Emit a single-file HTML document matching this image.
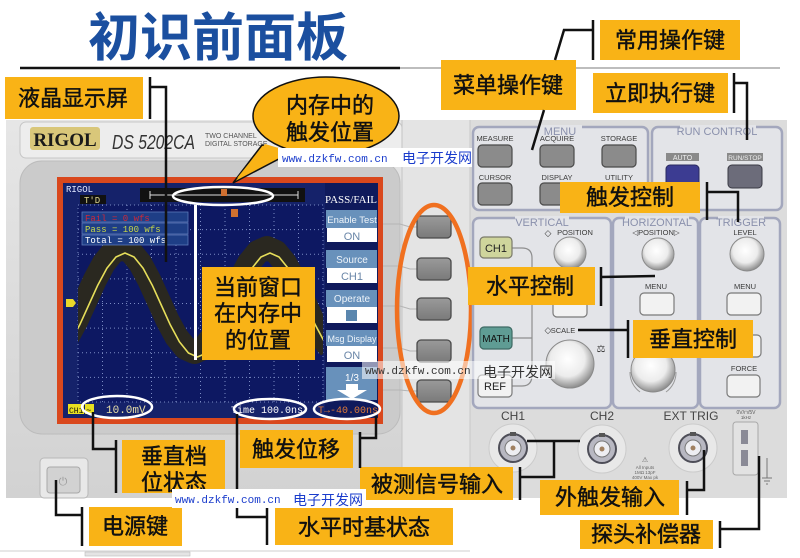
<!DOCTYPE html>
<html><head><meta charset="utf-8">
<style>
html,body{margin:0;padding:0;background:#fff;}
svg{display:block;}
.lb{font-family:"Liberation Sans","Noto Sans CJK SC",sans-serif;font-size:22px;fill:#111;stroke:#111;stroke-width:0.45px;text-anchor:middle;}
.box{fill:#f9b316;}
.ln{stroke:#111;stroke-width:2.5;fill:none;}
.sm{font-family:"Liberation Sans",sans-serif;font-size:7.5px;fill:#3a3a3a;text-anchor:middle;}
.hd{font-family:"Liberation Sans",sans-serif;font-size:11px;fill:#8a90ac;text-anchor:middle;}
.btn{fill:#8b8b8b;stroke:#4a4a4a;stroke-width:1.2;}
.wbtn{fill:#f2f2f2;stroke:#7a7a7a;stroke-width:1.2;}
.wm1{font-family:"Liberation Mono",monospace;font-size:11px;fill:#1a3ccc;}
.wm2{font-family:"Liberation Sans","Noto Sans CJK SC",sans-serif;font-size:14px;fill:#1a3ccc;}
.pbox{fill:#e3e4e8;stroke:#a3a7bd;stroke-width:2.5;}
.mono{font-family:"Liberation Mono",monospace;}
.grid{stroke:#7c8cc4;stroke-width:1;stroke-dasharray:1 3;}
</style></head><body>
<svg width="800" height="558" viewBox="0 0 800 558" xmlns="http://www.w3.org/2000/svg">
<defs>
<linearGradient id="bodyg" x1="0" y1="0" x2="0" y2="1">
<stop offset="0" stop-color="#e6e6e6"/><stop offset="1" stop-color="#d2d2d2"/>
</linearGradient>
<radialGradient id="kn" cx="0.45" cy="0.4" r="0.6">
<stop offset="0" stop-color="#ffffff"/><stop offset="0.6" stop-color="#ececec"/><stop offset="1" stop-color="#8e8e8e"/>
</radialGradient>
<linearGradient id="sk" x1="0" y1="0" x2="0" y2="1">
<stop offset="0" stop-color="#9a9a9a"/><stop offset="1" stop-color="#7a7a7a"/>
</linearGradient>
</defs>

<!-- Title -->
<text x="88" y="56" style="font-family:'Liberation Sans','Noto Sans CJK SC',sans-serif;font-size:52px;font-weight:bold;fill:#1b4f9f;">初识前面板</text>
<line x1="20" y1="68" x2="400" y2="68" stroke="#111" stroke-width="2.5"/>
<line x1="400" y1="68" x2="780" y2="68" stroke="#bdbdbd" stroke-width="2"/>

<!-- Body -->
<rect x="6" y="120" width="781" height="378" fill="url(#bodyg)"/>
<rect x="20" y="122" width="382" height="36" rx="6" fill="#ededed" stroke="#c6c6c6"/>
<rect x="20" y="161" width="380" height="273" rx="22" fill="#cbcbcb" stroke="#bcbcbc"/>
<rect x="402" y="120" width="68" height="378" fill="#e4e4e4"/>
<line x1="402" y1="120" x2="402" y2="498" stroke="#c4c4c4"/>
<rect x="470" y="120" width="317" height="378" fill="#dcdcdc"/>
<line x1="470" y1="120" x2="470" y2="498" stroke="#c8c8c8"/>

<!-- RIGOL header -->
<rect x="30" y="127" width="70" height="23" rx="3" fill="#d9c77a"/>
<text x="65" y="146" text-anchor="middle" style="font-family:'Liberation Serif',serif;font-weight:bold;font-size:19px;fill:#1a1a1a;">RIGOL</text>
<text x="112" y="149" textLength="83" lengthAdjust="spacingAndGlyphs" style="font-family:'Liberation Sans',sans-serif;font-style:italic;font-size:20px;fill:#333;">DS 5202CA</text>
<text x="205" y="138" style="font-family:'Liberation Sans',sans-serif;font-size:7px;fill:#555;">TWO CHANNEL</text>
<text x="205" y="146" style="font-family:'Liberation Sans',sans-serif;font-size:7px;fill:#555;">DIGITAL STORAGE</text>

<!-- Power -->
<rect x="40" y="458" width="48" height="40" rx="4" fill="#e8e8e8" stroke="#b8b8b8"/>
<rect x="47" y="467" width="33" height="26" rx="3" fill="#d2d2d2" stroke="#a8a8a8"/>
<text x="63" y="485" text-anchor="middle" style="font-family:'DejaVu Sans',sans-serif;font-size:11px;fill:#999;">⏻</text>

<!-- Screen -->
<rect x="57" y="177" width="326" height="247" fill="#d9481d"/>
<rect x="63" y="183" width="315" height="235" fill="#15226a"/>
<rect x="78" y="205" width="245" height="197" fill="#0d1862"/>
<g class="grid">
<line x1="102.5" y1="205" x2="102.5" y2="402"/><line x1="127" y1="205" x2="127" y2="402"/>
<line x1="151.5" y1="205" x2="151.5" y2="402"/><line x1="176" y1="205" x2="176" y2="402"/>
<line x1="200.5" y1="205" x2="200.5" y2="402"/><line x1="225" y1="205" x2="225" y2="402"/>
<line x1="249.5" y1="205" x2="249.5" y2="402"/><line x1="274" y1="205" x2="274" y2="402"/>
<line x1="298.5" y1="205" x2="298.5" y2="402"/>
<line x1="78" y1="229.6" x2="323" y2="229.6"/><line x1="78" y1="254.3" x2="323" y2="254.3"/>
<line x1="78" y1="278.9" x2="323" y2="278.9"/><line x1="78" y1="303.5" x2="323" y2="303.5"/>
<line x1="78" y1="328.1" x2="323" y2="328.1"/><line x1="78" y1="352.8" x2="323" y2="352.8"/>
<line x1="78" y1="377.4" x2="323" y2="377.4"/>
<rect x="78" y="205" width="245" height="197" fill="none"/>
</g>
<clipPath id="gc"><rect x="78" y="205" width="245" height="197"/></clipPath>
<g clip-path="url(#gc)">
<polyline transform="translate(-3,-5)" fill="none" stroke="#2a2820" stroke-width="24" stroke-linejoin="round" points="70.6,341.8 79.69,324.9 88.75,305 97.81,285.1 106.88,268.2 115.94,257 125,253 134.06,257 143.13,268.2 152.19,285.1 161.25,305 170.31,324.9 179.38,341.8 188.44,353 197.5,357 206.56,353 215.63,341.8 224.69,324.9 233.75,305 242.81,285.1 251.88,268.2 260.94,257 270,253 279.06,257 288.13,268.2 297.19,285.1 306.25,305 315.31,324.9 324.38,341.8 333.4,353"/>
<polyline fill="none" stroke="#e6de5a" stroke-width="1.6" stroke-linejoin="round" points="70.6,341.8 79.69,324.9 88.75,305 97.81,285.1 106.88,268.2 115.94,257 125,253 134.06,257 143.13,268.2 152.19,285.1 161.25,305 170.31,324.9 179.38,341.8 188.44,353 197.5,357 206.56,353 215.63,341.8 224.69,324.9 233.75,305 242.81,285.1 251.88,268.2 260.94,257 270,253 279.06,257 288.13,268.2 297.19,285.1 306.25,305 315.31,324.9 324.38,341.8 333.4,353"/>
</g>
<!-- screen top -->
<text x="66" y="192" class="mono" style="font-size:9px;fill:#dfe6ff;">RIGOL</text>
<rect x="80" y="195" width="26" height="9" fill="#111"/>
<text x="84" y="203" class="mono" style="font-size:9px;fill:#e0d890;">T'D</text>
<rect x="140" y="188" width="165" height="14" fill="#111"/>
<line x1="150" y1="195" x2="298" y2="195" stroke="#ddd" stroke-width="1"/>
<line x1="150" y1="191" x2="150" y2="199" stroke="#ddd"/><line x1="298" y1="191" x2="298" y2="199" stroke="#ddd"/>
<rect x="221" y="189" width="6" height="7" fill="#d07030"/>
<rect x="231" y="209" width="7" height="8" fill="#d07030"/>
<path d="M66,299 h7 l3,4 l-3,4 h-7z" fill="#e8d82a"/>
<!-- fail/pass -->
<rect x="82" y="212" width="106" height="10" fill="#1e3e86" stroke="#5a78b8" stroke-width="0.8"/>
<rect x="82" y="223" width="106" height="11" fill="#1e3e86" stroke="#5a78b8" stroke-width="0.8"/>
<rect x="82" y="235" width="106" height="10" fill="#1e3e86" stroke="#5a78b8" stroke-width="0.8"/>
<text x="85" y="221" class="mono" style="font-size:9px;fill:#d02838;">Fail = 0 wfs</text>
<text x="85" y="232" class="mono" style="font-size:9px;fill:#c8d848;">Pass = 100 wfs</text>
<text x="85" y="243" class="mono" style="font-size:9px;fill:#ffffff;">Total = 100 wfs</text>
<!-- menu panel -->
<rect x="325" y="183" width="53" height="235" fill="#0f1a5c"/>
<text x="351" y="203" text-anchor="middle" style="font-family:'Liberation Serif',serif;font-size:11px;fill:#fff;">PASS/FAIL</text>
<rect x="326" y="210" width="51" height="18" fill="#6891bb"/>
<rect x="327" y="228" width="50" height="14" fill="#fff"/>
<text x="352" y="223" text-anchor="middle" style="font-family:'Liberation Sans',sans-serif;font-size:9.5px;fill:#eef4fa;">Enable Test</text>
<text x="352" y="240" text-anchor="middle" style="font-family:'Liberation Sans',sans-serif;font-size:11px;fill:#6a86a8;">ON</text>
<rect x="326" y="250" width="51" height="18" fill="#6891bb"/>
<rect x="327" y="268" width="50" height="15" fill="#fff"/>
<text x="352" y="263" text-anchor="middle" style="font-family:'Liberation Sans',sans-serif;font-size:10px;fill:#eef4fa;">Source</text>
<text x="352" y="280" text-anchor="middle" style="font-family:'Liberation Sans',sans-serif;font-size:11px;fill:#6a86a8;">CH1</text>
<rect x="326" y="290" width="51" height="17" fill="#6891bb"/>
<rect x="327" y="307" width="50" height="16" fill="#fff"/>
<text x="352" y="302" text-anchor="middle" style="font-family:'Liberation Sans',sans-serif;font-size:10px;fill:#eef4fa;">Operate</text>
<rect x="346" y="310" width="11" height="11" fill="#5a86ae"/>
<rect x="326" y="330" width="51" height="16" fill="#6891bb"/>
<rect x="327" y="346" width="50" height="16" fill="#fff"/>
<text x="352" y="342" text-anchor="middle" style="font-family:'Liberation Sans',sans-serif;font-size:9px;fill:#eef4fa;">Msg Display</text>
<text x="352" y="359" text-anchor="middle" style="font-family:'Liberation Sans',sans-serif;font-size:11px;fill:#6a86a8;">ON</text>
<rect x="326" y="367" width="51" height="33" fill="#6891bb"/>
<text x="352" y="381" text-anchor="middle" style="font-family:'Liberation Sans',sans-serif;font-size:10px;fill:#fff;">1/3</text>
<path d="M346,384 h12 v6 h9 l-15,9 l-15,-9 h9z" fill="#fff"/>
<!-- status bar -->
<rect x="68" y="404" width="16" height="10" fill="#e8e020"/>
<text x="69" y="413" class="mono" style="font-size:8px;fill:#111;">CH1</text>
<rect x="85" y="404" width="9" height="10" fill="#e8e020"/>
<text x="86" y="413" class="mono" style="font-size:9px;fill:#111;">~</text>
<text x="106" y="413" class="mono" style="font-size:11px;fill:#e8e0a8;">10.0mV</text>
<text x="231" y="413" class="mono" style="font-size:10px;fill:#fff;">Time 100.0ns</text>
<text x="318" y="413" class="mono" style="font-size:10px;fill:#e07a38;">T→-40.00ns</text>
<g fill="none" stroke="#fff" stroke-width="2.5">
<ellipse cx="117" cy="407" rx="35" ry="11"/>
<ellipse cx="270" cy="409" rx="36" ry="10"/>
<ellipse cx="347" cy="409" rx="33" ry="10"/>
<ellipse cx="223" cy="196" rx="50" ry="9"/>
</g>
<line x1="195.5" y1="205" x2="195.5" y2="360" stroke="#fff" stroke-width="3"/>

<!-- softkeys -->
<g stroke="#b4b4b4" stroke-width="1" fill="none">
<path d="M383,224 H400 L410,227 H417"/><path d="M383,266 H400 L410,269 H417"/>
<path d="M383,306 H400 L410,309 H417"/><path d="M383,348 H400 L410,351 H417"/>
<path d="M383,390 H400 L410,391 H417"/>
</g>
<g fill="url(#sk)" stroke="#4a4a4a" stroke-width="1.3">
<rect x="417" y="216" width="34" height="22" rx="4"/>
<rect x="417" y="258" width="34" height="22" rx="4"/>
<rect x="417" y="298" width="34" height="22" rx="4"/>
<rect x="417" y="340" width="34" height="22" rx="4"/>
<rect x="417" y="380" width="34" height="22" rx="4"/>
</g>
<ellipse cx="434" cy="309" rx="37" ry="104" fill="none" stroke="#f07020" stroke-width="4.5"/>

<!-- right panel boxes -->
<rect class="pbox" x="473" y="127" width="175" height="83" rx="6"/>
<rect class="pbox" x="652" y="127" width="130" height="83" rx="6"/>
<rect class="pbox" x="473" y="218" width="138" height="190" rx="6"/>
<rect class="pbox" x="613" y="218" width="85" height="190" rx="6"/>
<rect class="pbox" x="700" y="218" width="80" height="190" rx="6"/>
<rect x="538" y="125" width="44" height="10" fill="#e3e4e8"/>
<text class="hd" x="560" y="135">MENU</text>
<rect x="680" y="125" width="76" height="10" fill="#e3e4e8"/>
<text class="hd" x="717" y="135">RUN CONTROL</text>
<rect x="515" y="216" width="54" height="10" fill="#e3e4e8"/>
<text class="hd" x="542" y="226">VERTICAL</text>
<rect x="625" y="216" width="64" height="10" fill="#e3e4e8"/>
<text class="hd" x="657" y="226">HORIZONTAL</text>
<rect x="718" y="216" width="46" height="10" fill="#e3e4e8"/>
<text class="hd" x="741" y="226">TRIGGER</text>

<text class="sm" x="495" y="141">MEASURE</text>
<text class="sm" x="557" y="141">ACQUIRE</text>
<text class="sm" x="619" y="141">STORAGE</text>
<rect class="btn" x="478" y="145" width="34" height="22" rx="4"/>
<rect class="btn" x="540" y="145" width="34" height="22" rx="4"/>
<rect class="btn" x="602" y="145" width="34" height="22" rx="4"/>
<text class="sm" x="495" y="180">CURSOR</text>
<text class="sm" x="557" y="180">DISPLAY</text>
<text class="sm" x="619" y="180">UTILITY</text>
<rect class="btn" x="478" y="183" width="34" height="22" rx="4"/>
<rect class="btn" x="540" y="183" width="34" height="22" rx="4"/>
<rect class="btn" x="602" y="183" width="34" height="22" rx="4"/>

<rect x="666" y="153" width="33" height="8" fill="#8a8a8a"/>
<text x="682.5" y="160" text-anchor="middle" style="font-family:'Liberation Sans',sans-serif;font-size:7px;fill:#eee;">AUTO</text>
<rect x="727" y="153" width="36" height="8" fill="#8a8a8a"/>
<text x="745" y="160" text-anchor="middle" style="font-family:'Liberation Sans',sans-serif;font-size:6.5px;fill:#eee;">RUN/STOP</text>
<rect x="666" y="165" width="33" height="22" rx="4" fill="#3c3c92" stroke="#2a2a60"/>
<rect x="728" y="165" width="34" height="23" rx="4" fill="#6c6c7a" stroke="#3a3a44"/>

<!-- vertical section -->
<path d="M512,248 H522 Q532,248 532,258 V375 Q532,386 522,386 H512 M512,338 H532" fill="none" stroke="#8e8e8e" stroke-width="1.2"/>
<rect x="480" y="237" width="32" height="21" rx="4" fill="#cfd59c" stroke="#7a7a6a" stroke-width="1.2"/>
<text x="496" y="252" text-anchor="middle" style="font-family:'Liberation Sans',sans-serif;font-size:11px;fill:#222;">CH1</text>
<rect x="480" y="327" width="32" height="22" rx="4" fill="#5f9c94" stroke="#3e6a64" stroke-width="1.2"/>
<text x="496" y="342" text-anchor="middle" style="font-family:'Liberation Sans',sans-serif;font-size:10px;fill:#111;">MATH</text>
<rect x="478" y="375" width="34" height="22" rx="4" class="wbtn"/>
<text x="495" y="390" text-anchor="middle" style="font-family:'Liberation Sans',sans-serif;font-size:11px;fill:#222;">REF</text>
<text class="sm" x="548" y="236" style="font-size:9px;">◇</text>
<text class="sm" x="575" y="235">POSITION</text>
<circle cx="570" cy="253" r="16" fill="url(#kn)" stroke="#8a8a8a"/>
<rect class="wbtn" x="553" y="293" width="34" height="24" rx="4"/>
<text class="sm" x="548" y="333" style="font-size:9px;">◇</text>
<text class="sm" x="563" y="333">SCALE</text>
<circle cx="570" cy="364" r="24" fill="url(#kn)" stroke="#8a8a8a"/>
<text class="sm" x="601" y="352" style="font-size:10px;">⚖</text>

<!-- horizontal section -->
<text class="sm" x="656" y="235">◁POSITION▷</text>
<circle cx="658" cy="254" r="16" fill="url(#kn)" stroke="#8a8a8a"/>
<text class="sm" x="656" y="289">MENU</text>
<rect class="wbtn" x="640" y="293" width="34" height="22" rx="4"/>
<circle cx="653" cy="370" r="22" fill="url(#kn)" stroke="#8a8a8a"/>
<path d="M630,372 A24,24 0 0 0 640,392 M676,372 A24,24 0 0 1 666,392" fill="none" stroke="#999"/>

<!-- trigger section -->
<text class="sm" x="745" y="235">LEVEL</text>
<circle cx="747" cy="254" r="17" fill="url(#kn)" stroke="#8a8a8a"/>
<text class="sm" x="745" y="289">MENU</text>
<rect class="wbtn" x="727" y="293" width="34" height="22" rx="4"/>
<rect class="wbtn" x="727" y="335" width="34" height="22" rx="4"/>
<text class="sm" x="744" y="371">FORCE</text>
<rect class="wbtn" x="727" y="375" width="33" height="22" rx="4"/>

<!-- connectors -->
<text x="513" y="420" text-anchor="middle" style="font-family:'Liberation Sans',sans-serif;font-size:12px;fill:#444;">CH1</text>
<text x="602" y="420" text-anchor="middle" style="font-family:'Liberation Sans',sans-serif;font-size:12px;fill:#444;">CH2</text>
<text x="691" y="420" text-anchor="middle" style="font-family:'Liberation Sans',sans-serif;font-size:12px;fill:#444;">EXT TRIG</text>
<text x="746" y="414" text-anchor="middle" style="font-family:'Liberation Sans',sans-serif;font-size:5px;fill:#555;">0V/⊓/5V</text>
<text x="746" y="419" text-anchor="middle" style="font-family:'Liberation Sans',sans-serif;font-size:4.5px;fill:#555;">1kHz</text>
<g>
<circle cx="513" cy="448" r="24" fill="#e8e8e8" stroke="#cbcbcb"/>
<circle cx="513" cy="448" r="14" fill="#b8b8c2" stroke="#4e4e58" stroke-width="2"/>
<circle cx="513" cy="448" r="8" fill="#eeeef2" stroke="#777"/>
<circle cx="513" cy="448" r="2.5" fill="#a08060"/>
<rect x="510" y="432" width="6" height="4" fill="#555"/>
<circle cx="602" cy="449" r="24" fill="#e8e8e8" stroke="#cbcbcb"/>
<circle cx="602" cy="449" r="14" fill="#b8b8c2" stroke="#4e4e58" stroke-width="2"/>
<circle cx="602" cy="449" r="8" fill="#eeeef2" stroke="#777"/>
<circle cx="602" cy="449" r="2.5" fill="#a08060"/>
<rect x="599" y="433" width="6" height="4" fill="#555"/>
<circle cx="693" cy="448" r="24" fill="#e8e8e8" stroke="#cbcbcb"/>
<circle cx="693" cy="448" r="14" fill="#b8b8c2" stroke="#4e4e58" stroke-width="2"/>
<circle cx="693" cy="448" r="8" fill="#eeeef2" stroke="#777"/>
<circle cx="693" cy="448" r="2.5" fill="#a08060"/>
<rect x="690" y="432" width="6" height="4" fill="#555"/>
</g>
<text x="645" y="462" text-anchor="middle" style="font-family:'Liberation Sans',sans-serif;font-size:7px;fill:#666;">⚠</text>
<text x="645" y="469" text-anchor="middle" style="font-family:'Liberation Sans',sans-serif;font-size:4.5px;fill:#666;">All Inputs</text>
<text x="645" y="474" text-anchor="middle" style="font-family:'Liberation Sans',sans-serif;font-size:4.5px;fill:#666;">1MΩ  13pF</text>
<text x="645" y="479" text-anchor="middle" style="font-family:'Liberation Sans',sans-serif;font-size:4.5px;fill:#666;">400V Max pk</text>
<rect x="733" y="422" width="25" height="53" rx="3" fill="#e2e2e2" stroke="#a8a8a8"/>
<rect x="741" y="430" width="7" height="14" fill="#8a8a96"/>
<rect x="741" y="450" width="7" height="16" fill="#8a8a96"/>
<path d="M767,458 V478 M762,478 H772 M764,481 H770 M766,484 H768" stroke="#777" stroke-width="1" fill="none"/>

<!-- bubble -->
<polygon points="262,145 233,183 292,152" fill="#f9b316" stroke="#111" stroke-width="1.5"/>
<ellipse cx="326" cy="116" rx="73" ry="39" fill="#f9b316" stroke="#111" stroke-width="1.5"/>
<polygon points="265,144 237,178 289,151" fill="#f9b316"/>
<text class="lb" x="330" y="113">内存中的</text>
<text class="lb" x="330" y="140">触发位置</text>

<!-- labels -->
<rect class="box" x="5" y="77" width="138" height="42"/>
<text class="lb" x="73" y="106">液晶显示屏</text>
<rect class="box" x="600" y="20" width="140" height="40"/>
<text class="lb" x="670" y="48">常用操作键</text>
<rect class="box" x="441" y="60" width="135" height="50"/>
<text class="lb" x="508" y="93">菜单操作键</text>
<rect class="box" x="593" y="73" width="135" height="40"/>
<text class="lb" x="660" y="101">立即执行键</text>
<rect class="box" x="560" y="182" width="140" height="31"/>
<text class="lb" x="630" y="205">触发控制</text>
<rect class="box" x="468" y="267" width="127" height="38"/>
<text class="lb" x="530" y="294">水平控制</text>
<rect class="box" x="633" y="320" width="120" height="38"/>
<text class="lb" x="693" y="347">垂直控制</text>
<rect class="box" x="202" y="267" width="113" height="93"/>
<text class="lb" x="258" y="295">当前窗口</text>
<text class="lb" x="258" y="321">在内存中</text>
<text class="lb" x="258" y="348">的位置</text>
<rect class="box" x="122" y="440" width="103" height="53"/>
<text class="lb" x="174" y="464">垂直档</text>
<text class="lb" x="174" y="490">位状态</text>
<rect class="box" x="240" y="430" width="113" height="38"/>
<text class="lb" x="296" y="457">触发位移</text>
<rect class="box" x="360" y="467" width="153" height="33"/>
<text class="lb" x="437" y="492">被测信号输入</text>
<rect class="box" x="540" y="480" width="139" height="35"/>
<text class="lb" x="610" y="505">外触发输入</text>
<rect class="box" x="580" y="520" width="133" height="29"/>
<text class="lb" x="646" y="542">探头补偿器</text>
<rect class="box" x="275" y="508" width="178" height="37"/>
<text class="lb" x="364" y="535">水平时基状态</text>
<rect class="box" x="89" y="507" width="93" height="39"/>
<text class="lb" x="135" y="534">电源键</text>

<!-- connector lines -->
<g class="ln">
<line x1="150" y1="77" x2="150" y2="119"/><polyline points="150,87 166,87 166,262"/>
<line x1="593" y1="20" x2="593" y2="60"/><polyline points="593,30 564,30 555,60"/>
<line x1="544" y1="110" x2="532" y2="150"/>
<line x1="734" y1="73" x2="734" y2="113"/><polyline points="734,83 747,83 747,140"/>
<line x1="707" y1="182" x2="707" y2="220"/><polyline points="707,192 738,192 738,222"/>
<line x1="601" y1="267" x2="601" y2="306"/><line x1="601" y1="277" x2="655" y2="276"/>
<line x1="628" y1="320" x2="628" y2="358"/><line x1="628" y1="330" x2="578" y2="330"/>
<line x1="116" y1="440" x2="116" y2="493"/><polyline points="116,449 93,449 93,412"/>
<line x1="360" y1="432" x2="360" y2="468"/><polyline points="360,438 376,438 376,416"/>
<line x1="267" y1="508" x2="267" y2="545"/><polyline points="267,517 237,517 237,414"/>
<line x1="82" y1="507" x2="82" y2="546"/><polyline points="82,515 56,515 56,480"/>
<line x1="520" y1="467" x2="520" y2="500"/><polyline points="520,477 554,477 554,441"/><line x1="527" y1="441" x2="580" y2="441"/>
<line x1="687" y1="481" x2="687" y2="515"/><polyline points="687,490 704,490 704,450"/>
<line x1="720" y1="521" x2="720" y2="548"/><polyline points="720,529 759,529 759,456"/>
</g>

<!-- watermarks -->
<rect x="278" y="148" width="194" height="19" fill="#fff"/>
<text class="wm1" x="282" y="162">www.dzkfw.com.cn</text>
<text class="wm2" x="402" y="163">电子开发网</text>
<rect x="362" y="361" width="193" height="18" fill="#fff" opacity="0.55"/>
<text class="wm1" x="365" y="374" style="fill:#333;">www.dzkfw.com.cn</text>
<text class="wm2" x="483" y="377" style="fill:#333;">电子开发网</text>
<rect x="172" y="489" width="194" height="19" fill="#fff"/>
<text class="wm1" x="175" y="503">www.dzkfw.com.cn</text>
<text class="wm2" x="293" y="505">电子开发网</text>

<line x1="0" y1="551" x2="470" y2="551" stroke="#cfcfcf" stroke-width="1"/>
<rect x="85" y="552" width="105" height="4" fill="#e4e4e4" stroke="#bbb" stroke-width="0.6"/>
</svg>
</body></html>
